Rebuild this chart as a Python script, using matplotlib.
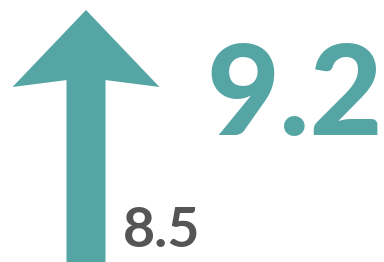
import matplotlib
matplotlib.use("Agg")
import matplotlib.pyplot as plt

# KPI values: previous and current
previous_value = 8.5
current_value = 9.2
value_labels = [f"{previous_value:.1f}", f"{current_value:.1f}"]

teal = "#55a5a5"
grey = "#555555"

fig = plt.figure(figsize=(3.84, 2.62), dpi=100)
ax = fig.add_axes([0, 0, 1, 1])
ax.set_xlim(0, 384)
ax.set_ylim(262, 0)
ax.axis("off")

# up arrow (current > previous)
direction = 1 if current_value >= previous_value else -1
ax.arrow(86, 262, 0, -252 * direction, width=39, head_width=147,
         head_length=77, overhang=0.09, length_includes_head=True,
         color=teal, linewidth=0)

# current value, big and bold
ax.text(383.5, 135, value_labels[1], ha="right", va="baseline",
        fontsize=91, fontweight="black", family="Lato", color=teal)

# previous value, small grey
ax.text(123, 247, value_labels[0], ha="left", va="baseline",
        fontsize=40, fontweight="bold", family="Lato", color=grey)

plt.savefig("out.png", dpi=100)
